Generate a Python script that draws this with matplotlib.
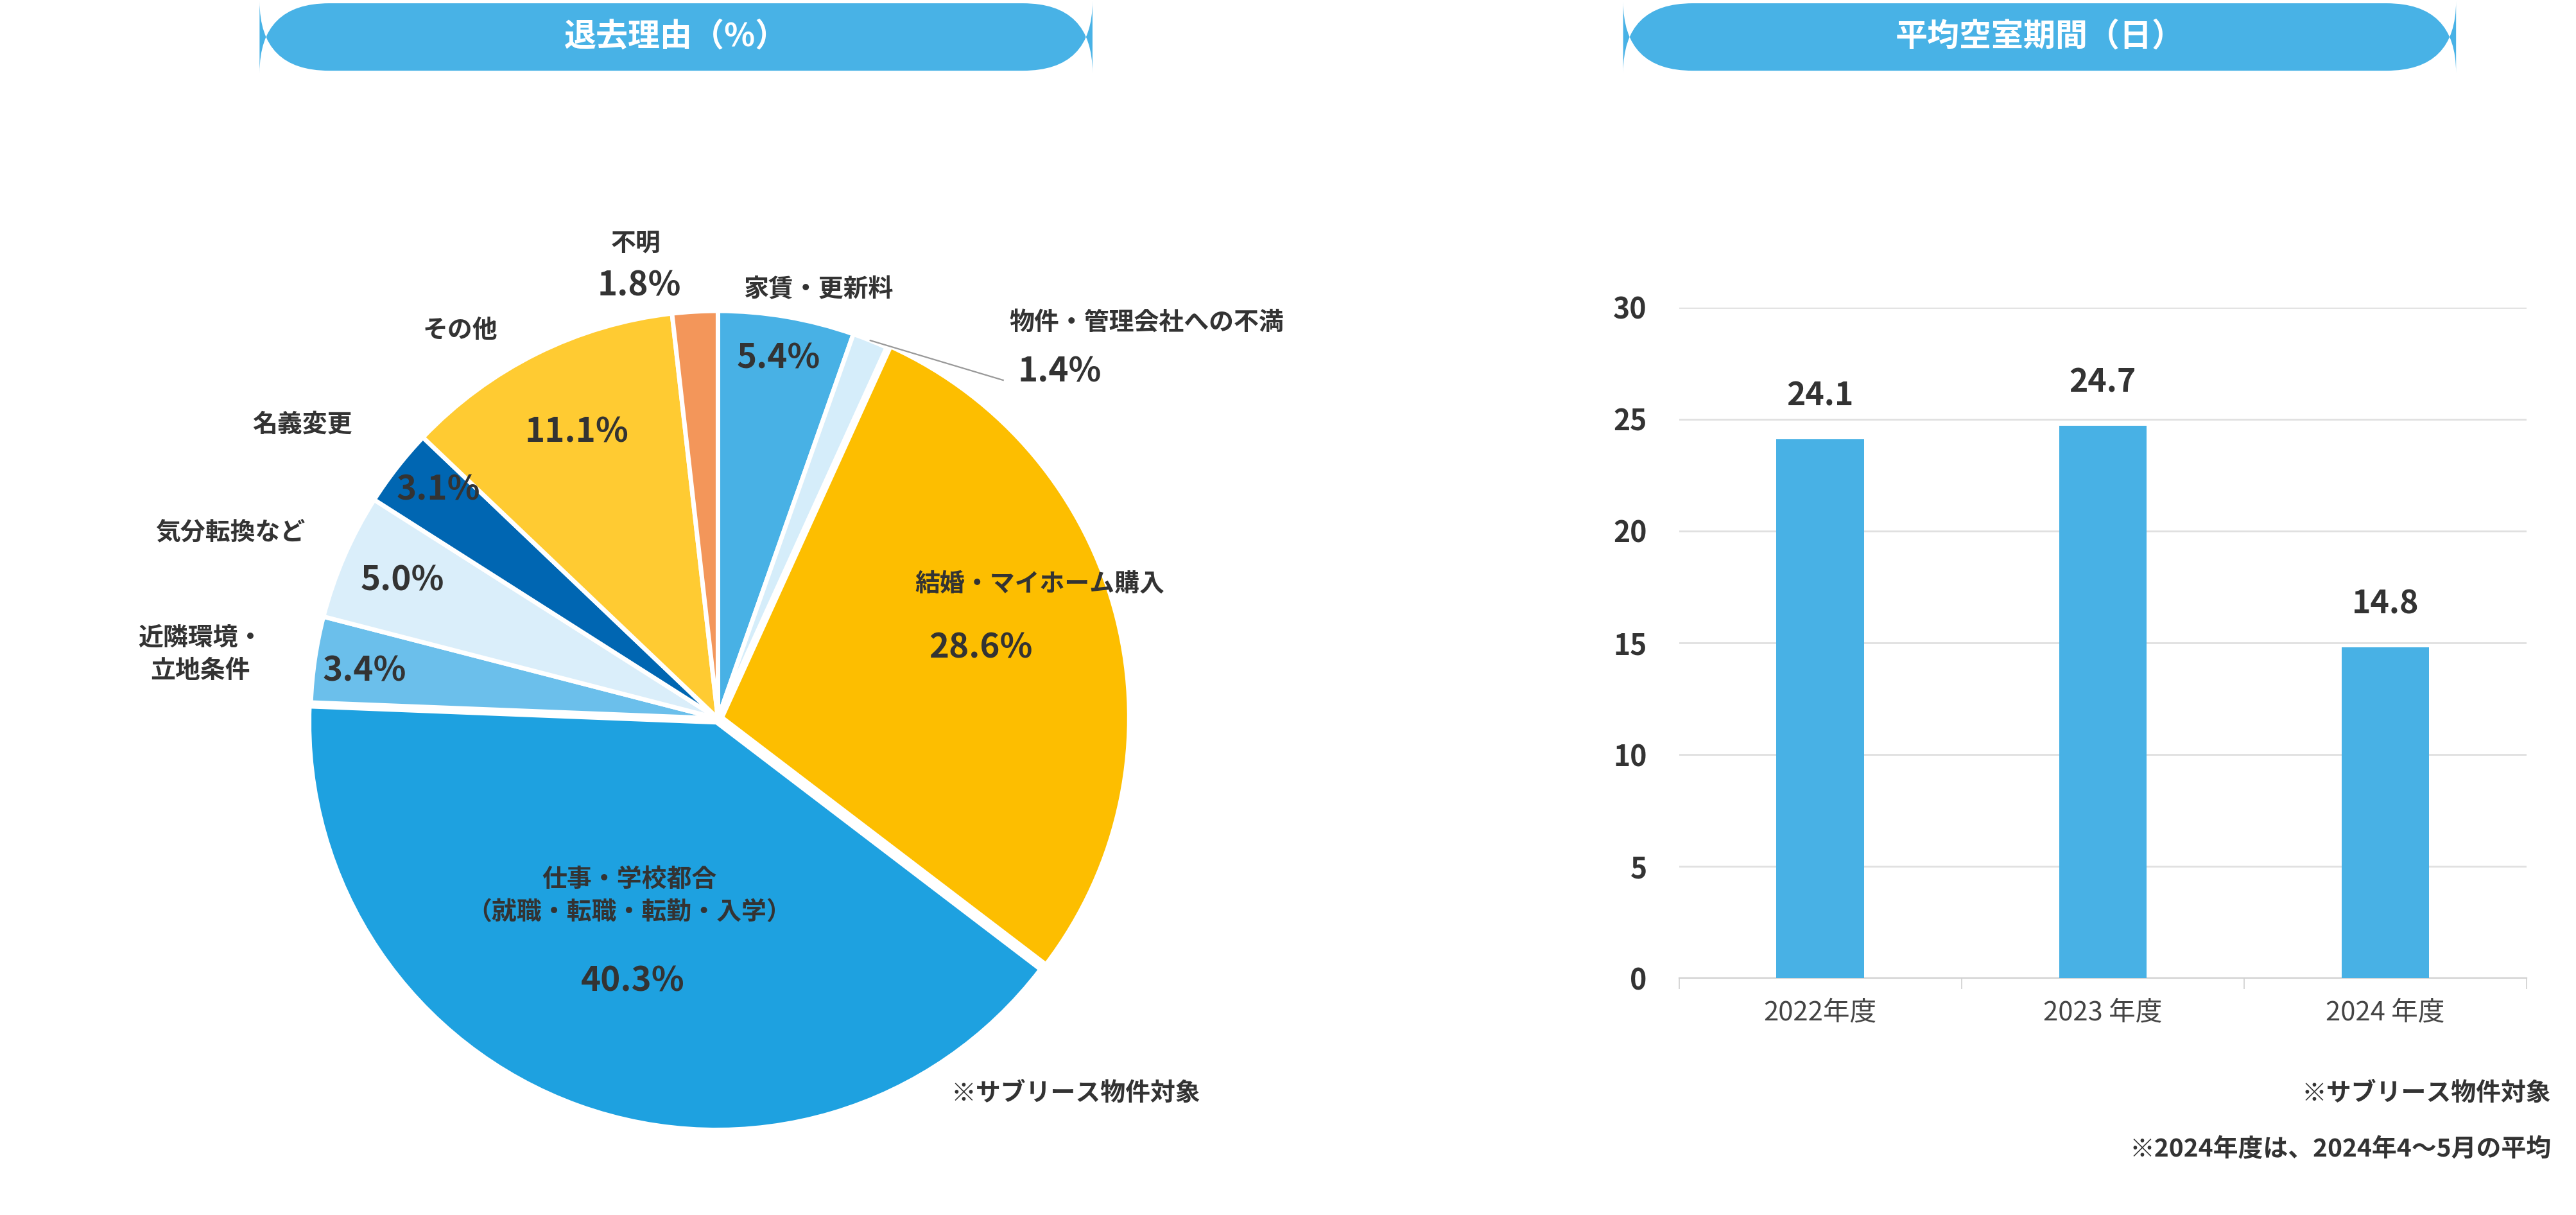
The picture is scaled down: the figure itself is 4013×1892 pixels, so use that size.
import matplotlib.pyplot as plt
from matplotlib.patches import FancyBboxPatch
import numpy as np

plt.rcParams['font.family'] = ['Noto Sans CJK JP', 'DejaVu Sans']

# 退去理由 (%)
reasons = ['家賃・更新料', '物件・管理会社への不満', '結婚・マイホーム購入',
           '仕事・学校都合\n（就職・転職・転勤・入学）', '近隣環境・\n立地条件',
           '気分転換など', '名義変更', 'その他', '不明']
shares = [5.4, 1.4, 28.6, 40.3, 3.4, 5.0, 3.1, 11.1, 1.8]
pie_colors = ['#48B1E5', '#D5EDFA', '#FDBE00', '#1EA1E0', '#6BBFEB',
              '#DAEEFA', '#0066B2', '#FFCB32', '#F3965A']

# 平均空室期間 (日)
years = ['2022年度', '2023 年度', '2024 年度']
vacancy_days = [24.1, 24.7, 14.8]

W, H = 1568, 739  # layout grid in reference pixels
fig = plt.figure(figsize=(20.065, 9.46), dpi=200)


def fx(x):
    return x / W


def fy(y):
    return 1 - y / H


def pill(x0, x1, y0, y1, text):
    box = FancyBboxPatch((fx(x0), fy(y1)), fx(x1 - x0), (y1 - y0) / H,
                         boxstyle='round,pad=0,rounding_size=0.027',
                         transform=fig.transFigure, facecolor='#48B2E6',
                         edgecolor='none', mutation_aspect=W / H)
    fig.patches.append(box)
    fig.text(fx((x0 + x1) / 2), fy((y0 + y1) / 2), text, color='white',
             fontsize=18, fontweight='bold', ha='center', va='center')


pill(158, 665, 2, 43, '退去理由（%）')
pill(988, 1495, 2, 43, '平均空室期間（日）')

# ---- pie ----
cx, cy, r = 437, 437, 248
ax = fig.add_axes([fx(cx - r * 1.1), fy(cy + r * 1.1), 2.2 * r / W, 2.2 * r / H])
ax.pie(shares, colors=pie_colors, startangle=90, counterclock=False,
       explode=[0, 0, 0.01, 0.01, 0, 0, 0, 0, 0],
       wedgeprops=dict(edgecolor='white', linewidth=2.5))
ax.set_xlim(-1.1, 1.1)
ax.set_ylim(-1.1, 1.1)
ax.set_aspect('equal')
ax.axis('off')

# leader line for the small slice
mid = 90 - (shares[0] + shares[1] / 2) * 3.6
a = np.deg2rad(mid)
ax.plot([np.cos(a), 0.70], [np.sin(a), 0.83], color='#999999', lw=0.8)

txt = '#333333'
# (label, label pos, value pos)
spots = [
    (reasons[0], (498, 176), (474, 218)),
    (reasons[1], (698, 196), (645, 226)),
    (reasons[2], (633, 355), (597, 394)),
    (reasons[3], (383, 545), (385, 597)),
    (reasons[4], (122, 398), (222, 408)),
    (reasons[5], (140, 324), (245, 353)),
    (reasons[6], (184, 258), (267, 298)),
    (reasons[7], (280, 201), (351, 263)),
    (reasons[8], (387, 148), (389, 174)),
]
for (lab, (lx, ly), (vx, vy)), v in zip(spots, shares):
    fig.text(fx(lx), fy(ly), lab, ha='center', va='center', fontsize=14,
             color=txt, fontweight='bold', linespacing=1.4)
    fig.text(fx(vx), fy(vy), f'{v}%', ha='center', va='center', fontsize=19,
             color=txt, fontweight='bold')

fig.text(fx(655), fy(665), '※サブリース物件対象', ha='center', va='center',
         fontsize=14, color=txt, fontweight='bold')

# ---- bar chart ----
bx = fig.add_axes([fx(1022), fy(595), fx(1538 - 1022), (595 - 187) / H])
pos = np.arange(len(years))
bars = bx.bar(pos, vacancy_days, width=0.31, color='#48B1E5', zorder=3)
for b, v in zip(bars, vacancy_days):
    bx.text(b.get_x() + b.get_width() / 2, v + 1.2, f'{v}', ha='center',
            va='bottom', fontsize=18, fontweight='bold', color=txt)
bx.set_xlim(-0.5, 2.5)
bx.set_ylim(0, 30)
bx.set_yticks(range(0, 31, 5))
bx.set_xticks(pos)
bx.set_xticklabels(years)
bx.set_xticks([-0.5, 0.5, 1.5, 2.5], minor=True)
bx.tick_params(axis='x', which='major', length=0, pad=12, labelsize=15,
               labelcolor='#444444')
bx.tick_params(axis='x', which='minor', length=6, color='#D0D0D0')
bx.tick_params(axis='y', length=0, pad=18, labelsize=16, labelcolor=txt)
for lbl in bx.get_yticklabels():
    lbl.set_fontweight('bold')
bx.grid(axis='y', color='#E0E0E0', lw=1, zorder=0)
for s in ['top', 'right', 'left']:
    bx.spines[s].set_visible(False)
bx.spines['bottom'].set_color('#D0D0D0')

fig.text(fx(1553), fy(665), '※サブリース物件対象', ha='right', va='center',
         fontsize=14, color=txt, fontweight='bold')
fig.text(fx(1553), fy(699), '※2024年度は、2024年4～5月の平均', ha='right',
         va='center', fontsize=14, color=txt, fontweight='bold')

fig.savefig('out.png', dpi=200, facecolor='white')
